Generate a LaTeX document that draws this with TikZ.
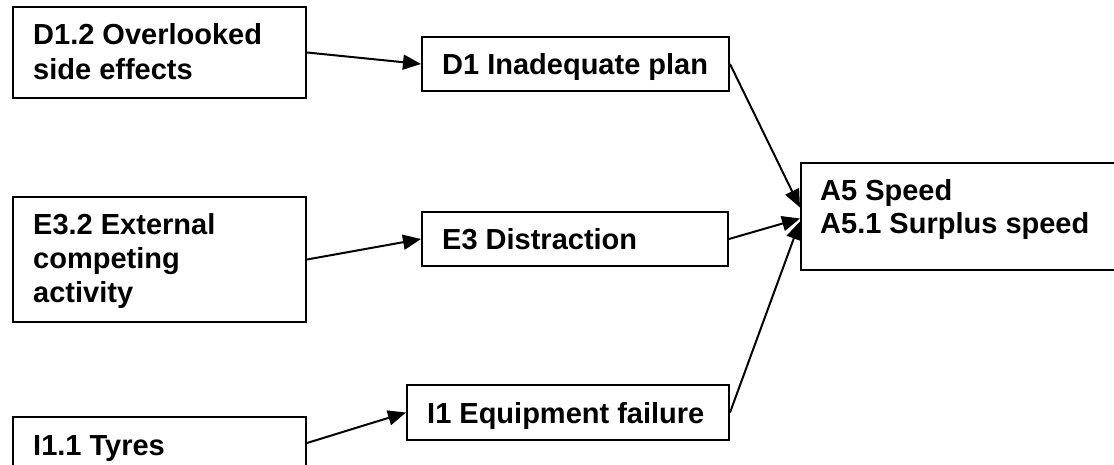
\documentclass[tikz,border=0pt]{standalone}
\usepackage{fontspec}
\setmainfont{Liberation Sans}
\usetikzlibrary{arrows.meta}
\begin{document}
\begin{tikzpicture}[x=1pt,y=-1pt,
  box/.style={draw=black,line width=2pt,inner sep=0pt},
  lbl/.style={anchor=base west,inner sep=0pt,font=\fontsize{29}{34}\selectfont\bfseries},
  link/.style={line width=2pt,-{Triangle[length=18pt,width=15pt]}}]
\useasboundingbox (0,0) rectangle (1114,465);
\clip (0,0) rectangle (1114,465);
% boxes (corners in picture units)
\node[box,minimum width=293pt,minimum height=91pt] (d12) at (159.5,52.5) {};
\node[box,minimum width=307pt,minimum height=54pt] (d1) at (575.5,64) {};
\node[box,minimum width=293pt,minimum height=125pt] (e32) at (159.5,259.5) {};
\node[box,minimum width=306pt,minimum height=54pt] (e3) at (575,239) {};
\node[box,minimum width=293pt,minimum height=90pt] (i11) at (159.5,462) {};
\node[box,minimum width=322pt,minimum height=55pt] (i1) at (568,412.5) {};
\node[box,minimum width=340pt,minimum height=107pt] (a5) at (971,216.5) {};
% labels
\node[lbl] (t12a) at (33,45) {D1.2 Overlooked};
\node[lbl] (t12b) at (33,80) {side effects};
\node[lbl] (t1) at (442,75) {D1 Inadequate plan};
\node[lbl] (t32a) at (33,235) {E3.2 External};
\node[lbl] (t32b) at (33,269) {competing};
\node[lbl] (t32c) at (33,302) {activity};
\node[lbl] (t3) at (442,250) {E3 Distraction};
\node[lbl] (t11) at (33,455) {I1.1 Tyres};
\node[lbl] (ti1) at (427,423) {I1 Equipment failure};
\node[lbl] (t5a) at (820,201) {A5 Speed};
\node[lbl] (t5b) at (820,234) {A5.1 Surplus speed};
% connectors
\draw[link] (d12.east) -- (d1.west);
\draw[link] (e32.east) -- (e3.west);
\draw[link] ([yshift=19pt]i11.east) -- (i1.west);
\draw[link] (d1.east) -- ([yshift=9pt]a5.west);
\draw[link] (e3.east) -- ([yshift=-2pt]a5.west);
\draw[link] (i1.east) -- ([yshift=-5pt]a5.west);
\end{tikzpicture}
\end{document}
